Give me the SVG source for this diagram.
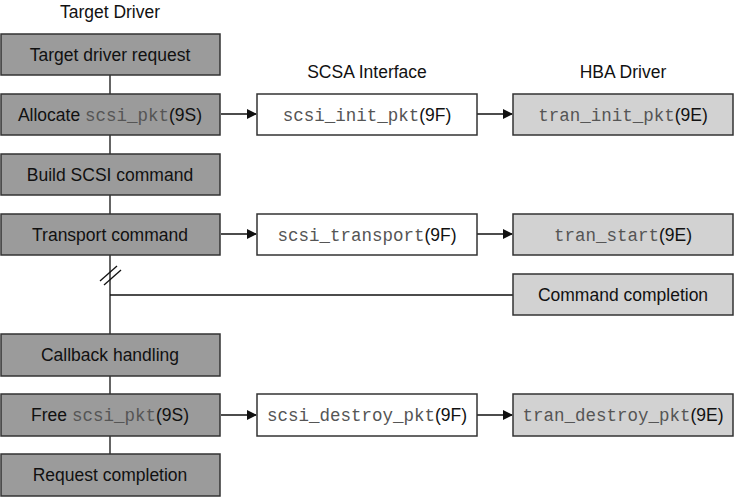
<svg xmlns="http://www.w3.org/2000/svg" width="734" height="497" viewBox="0 0 734 497">
<style>
.t{font-family:"Liberation Sans",Arial,sans-serif;font-size:17.5px;fill:#111;text-anchor:middle}
.m{font-family:"Liberation Mono","Courier New",monospace;fill:#555}
.d rect{fill:#9b9b9b;stroke:#333;stroke-width:1.5}
.s rect{fill:#fff;stroke:#333;stroke-width:1.5}
.h rect{fill:#d2d2d2;stroke:#333;stroke-width:1.5}
.c line,.c path{stroke:#111;stroke-width:1.3;fill:none}
</style>
<defs><marker id="a" markerWidth="10" markerHeight="10" refX="9" refY="5" orient="auto" markerUnits="userSpaceOnUse"><path d="M0,0L10,5L0,10z" fill="#111"/></marker></defs>
<text class="t" x="110" y="18">Target Driver</text>
<text class="t" x="367" y="78">SCSA Interface</text>
<text class="t" x="623" y="78">HBA Driver</text>
<g class="c">
<line x1="110" y1="75" x2="110" y2="94"/>
<line x1="110" y1="135" x2="110" y2="154"/>
<line x1="110" y1="195" x2="110" y2="214"/>
<line x1="110" y1="255" x2="110" y2="334"/>
<line x1="110" y1="295" x2="513" y2="295"/>
<line x1="100" y1="281" x2="117" y2="266"/>
<line x1="104" y1="285" x2="121" y2="270"/>
<line x1="110" y1="376" x2="110" y2="394"/>
<line x1="110" y1="436" x2="110" y2="454"/>
<line x1="221" y1="114" x2="256" y2="114" marker-end="url(#a)"/>
<line x1="477" y1="114" x2="512" y2="114" marker-end="url(#a)"/>
<line x1="221" y1="234" x2="256" y2="234" marker-end="url(#a)"/>
<line x1="477" y1="234" x2="512" y2="234" marker-end="url(#a)"/>
<line x1="221" y1="415" x2="256" y2="415" marker-end="url(#a)"/>
<line x1="477" y1="415" x2="512" y2="415" marker-end="url(#a)"/>
</g>
<g id="n1" class="d"><rect x="1" y="34" width="219" height="41"/><text class="t" x="110" y="61">Target driver request</text></g>
<g id="n2" class="d"><rect x="1" y="94" width="219" height="41"/><text class="t" x="110" y="121">Allocate <tspan class="m">scsi_pkt</tspan>(9S)</text></g>
<g id="n3" class="d"><rect x="1" y="154" width="219" height="41"/><text class="t" x="110" y="181">Build SCSI command</text></g>
<g id="n4" class="d"><rect x="1" y="214" width="219" height="41"/><text class="t" x="110" y="241">Transport command</text></g>
<g id="n5" class="d"><rect x="1" y="334" width="219" height="42"/><text class="t" x="110" y="361">Callback handling</text></g>
<g id="n6" class="d"><rect x="1" y="394" width="219" height="42"/><text class="t" x="110" y="421">Free <tspan class="m">scsi_pkt</tspan>(9S)</text></g>
<g id="n7" class="d"><rect x="1" y="454" width="219" height="42"/><text class="t" x="110" y="481">Request completion</text></g>
<g id="s1" class="s"><rect x="257" y="94" width="220" height="41"/><text class="t" x="367" y="121"><tspan class="m">scsi_init_pkt</tspan>(9F)</text></g>
<g id="s2" class="s"><rect x="257" y="214" width="220" height="41"/><text class="t" x="367" y="241"><tspan class="m">scsi_transport</tspan>(9F)</text></g>
<g id="s3" class="s"><rect x="257" y="394" width="220" height="42"/><text class="t" x="367" y="421"><tspan class="m">scsi_destroy_pkt</tspan>(9F)</text></g>
<g id="h1" class="h"><rect x="513" y="94" width="220" height="41"/><text class="t" x="623" y="121"><tspan class="m">tran_init_pkt</tspan>(9E)</text></g>
<g id="h2" class="h"><rect x="513" y="214" width="220" height="41"/><text class="t" x="623" y="241"><tspan class="m">tran_start</tspan>(9E)</text></g>
<g id="h3" class="h"><rect x="513" y="274" width="220" height="41"/><text class="t" x="623" y="301">Command completion</text></g>
<g id="h4" class="h"><rect x="513" y="394" width="220" height="42"/><text class="t" x="623" y="421"><tspan class="m">tran_destroy_pkt</tspan>(9E)</text></g>
</svg>
